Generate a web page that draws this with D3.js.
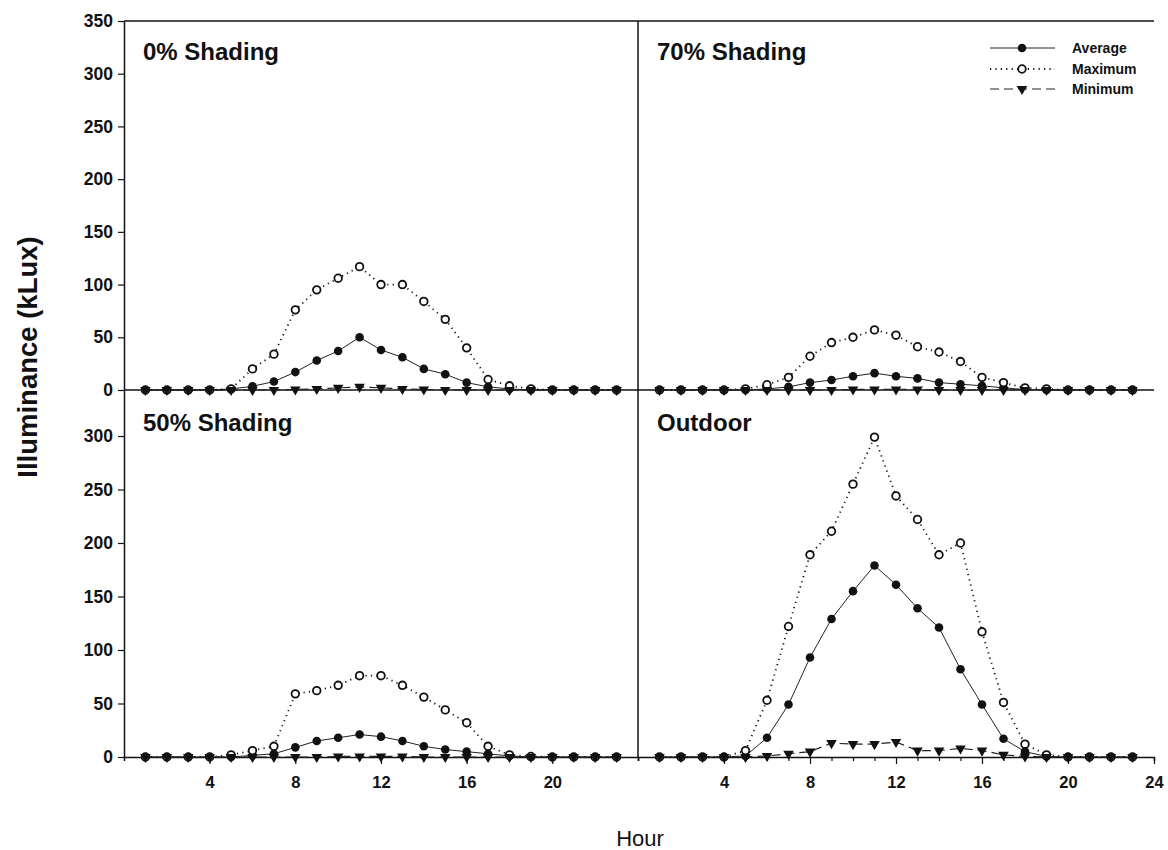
<!DOCTYPE html>
<html>
<head>
<meta charset="utf-8">
<script src="https://cdn.jsdelivr.net/npm/d3@7"></script>
<style>
  html, body { margin: 0; padding: 0; background: #fff; }
  svg { display: block; }
  text { font-family: "Liberation Sans", Arial, sans-serif; fill: #111; }
</style>
</head>
<body>
<svg id="chart" width="1168" height="850"></svg>
<script>
// ---------------- DATA ----------------
const hours = d3.range(1, 24); // 1..23

const shade0Avg = [0,0,0,0,1,3.5,8,17,28,37,50,38,31,20,15,7,3,1,0,0,0,0,0];
const shade0Max = [0,0,0,0,1,20,34,76,95,106,117,100,100,84,67,40,10,4,1,0,0,0,0];
const shade0Min = [0,0,0,0,0,0,0,0.5,1,2,3,2,1,0.5,0,0,0,0,0,0,0,0,0];

const shade70Avg = [0,0,0,0,0,1,3,7,9.5,13,16,13,11,7,5.5,4,2,0.5,0,0,0,0,0];
const shade70Max = [0,0,0,0,1,5,12,32,45,50,57,52,41,36,27,12,7,2,1,0,0,0,0];
const shade70Min = [0,0,0,0,0,0,0,0,0,0.5,0.5,0.5,0.5,0,0,0,0,0,0,0,0,0,0];

const shade50Avg = [0,0,0,0,0,1.5,3,9,15,18,21,19,15,10,7,5,3,1,0,0,0,0,0];
const shade50Max = [0,0,0,0,2,6,10,59,62,67,76,76,67,56,44,32,10,2,0.5,0,0,0,0];
const shade50Min = [0,0,0,0,0,0,0,0,0,0.5,0.5,0.5,0.5,0,0,0,0,0,0,0,0,0,0];

const outdoorAvg = [0,0,0,0,1,18,49,93,129,155,179,161,139,121,82,49,17,5,0.5,0,0,0,0];
const outdoorMax = [0,0,0,0,6,53,122,189,211,255,299,244,222,189,200,117,51,12,2,0,0,0,0];
const outdoorMin = [0,0,0,0,0,1,3,5,13,12,12,14,6,6,8,6,2,0.5,0,0,0,0,0];

const panelTitles = ["0% Shading", "70% Shading", "50% Shading", "Outdoor"];
const yTickValues = [0, 50, 100, 150, 200, 250, 300, 350];
const yTickValuesBottom = [0, 50, 100, 150, 200, 250, 300];
const xLabelValuesLeft = [4, 8, 12, 16, 20];
const xLabelValuesRight = [4, 8, 12, 16, 20, 24];
const seriesNames = ["Average", "Maximum", "Minimum"];
const yTitle = "Illuminance (kLux)";
const xTitle = "Hour";

// ---------------- LAYOUT ----------------
const svg = d3.select("#chart");
const X0 = 124, XM = 638, X1 = 1154;
const xLeft = d3.scaleLinear().domain([0, 24]).range([X0, XM]);
const xRight = d3.scaleLinear().domain([0, 24]).range([XM, X1]);
const yTop = d3.scaleLinear().domain([0, 350]).range([390, 21]);
const yBot = d3.scaleLinear().domain([0, 343]).range([757, 390]);

const panels = [
  { title: panelTitles[0], x: xLeft,  y: yTop, avg: shade0Avg,  max: shade0Max,  min: shade0Min,  ty: 60 },
  { title: panelTitles[1], x: xRight, y: yTop, avg: shade70Avg, max: shade70Max, min: shade70Min, ty: 60 },
  { title: panelTitles[2], x: xLeft,  y: yBot, avg: shade50Avg, max: shade50Max, min: shade50Min, ty: 431 },
  { title: panelTitles[3], x: xRight, y: yBot, avg: outdoorAvg, max: outdoorMax, min: outdoorMin, ty: 431 }
];

const styles = {
  avg: { stroke: "#222", width: 1, dash: null },
  max: { stroke: "#111", width: 1.8, dash: "1.2,4.2" },
  min: { stroke: "#222", width: 1.2, dash: "9,5" }
};

const triangle = d3.symbol().type(d3.symbolTriangle).size(48);

function drawMarker(g, kind, cx, cy) {
  if (kind === "avg") {
    g.append("circle").attr("cx", cx).attr("cy", cy).attr("r", 4.3).attr("fill", "#111");
  } else if (kind === "max") {
    g.append("circle").attr("cx", cx).attr("cy", cy).attr("r", 3.8)
      .attr("fill", "#fff").attr("stroke", "#111").attr("stroke-width", 1.8);
  } else {
    g.append("path").attr("d", triangle)
      .attr("transform", `translate(${cx},${cy}) rotate(180)`).attr("fill", "#111");
  }
}

// ---------------- FRAME / AXES ----------------
const frame = svg.append("g").attr("stroke", "#111").attr("stroke-width", 1.5).attr("fill", "none");
frame.append("line").attr("x1", X0).attr("x2", X1).attr("y1", yTop(350)).attr("y2", yTop(350));
frame.append("line").attr("x1", X0).attr("x2", X1).attr("y1", yTop(0)).attr("y2", yTop(0));
frame.append("line").attr("x1", XM).attr("x2", XM).attr("y1", yTop(350)).attr("y2", yBot(0));

function styleAxis(g, size) {
  g.selectAll(".domain").attr("stroke", "#111").attr("stroke-width", 1.5);
  g.selectAll(".tick line").attr("stroke", "#111").attr("stroke-width", 1.2);
  g.selectAll(".tick text").attr("font-size", size).attr("font-weight", "bold")
    .attr("font-family", '"Liberation Sans", Arial, sans-serif').attr("fill", "#111");
}

const yAxisTop = svg.append("g").attr("transform", `translate(${X0},0)`)
  .call(d3.axisLeft(yTop).tickValues(yTickValues).tickSize(6).tickSizeOuter(0).tickPadding(5));
styleAxis(yAxisTop, 17.5);
const yAxisBot = svg.append("g").attr("transform", `translate(${X0},0)`)
  .call(d3.axisLeft(yBot).tickValues(yTickValuesBottom).tickSize(6).tickSizeOuter(0).tickPadding(5));
styleAxis(yAxisBot, 17.5);

function xAxis(scale, labels, tickHours) {
  const g = svg.append("g").attr("transform", `translate(0,${yBot(0)})`)
    .call(d3.axisBottom(scale).tickValues(tickHours).tickSizeOuter(0).tickSize(4).tickPadding(15)
      .tickFormat(d => labels.includes(d) ? String(d) : ""));
  styleAxis(g, 16.5);
  g.selectAll(".tick line").attr("y2", d => labels.includes(d) ? 7 : 4);
  return g;
}
xAxis(xLeft, xLabelValuesLeft, d3.range(1, 24));
xAxis(xRight, xLabelValuesRight, d3.range(1, 25));

// ---------------- SERIES ----------------
panels.forEach(p => {
  const g = svg.append("g");
  ["avg", "max", "min"].forEach(k => {
    const vals = p[k];
    const line = d3.line().x((d, i) => p.x(hours[i])).y(d => p.y(d));
    const s = styles[k];
    g.append("path").datum(vals).attr("d", line).attr("fill", "none")
      .attr("stroke", s.stroke).attr("stroke-width", s.width)
      .attr("stroke-dasharray", s.dash);
  });
  ["avg", "max", "min"].forEach(k => {
    p[k].forEach((v, i) => drawMarker(g, k, p.x(hours[i]), p.y(v)));
  });
  svg.append("text").attr("x", p.x(0) + 19).attr("y", p.ty)
    .attr("font-size", 24).attr("font-weight", "bold").text(p.title);
});

// ---------------- LEGEND ----------------
const legend = svg.append("g");
const legKinds = ["avg", "max", "min"];
const legY = [48, 69, 89];
legKinds.forEach((k, i) => {
  const s = styles[k];
  legend.append("line").attr("x1", 990).attr("x2", 1055).attr("y1", legY[i]).attr("y2", legY[i])
    .attr("stroke", s.stroke).attr("stroke-width", s.width).attr("stroke-dasharray", s.dash);
  drawMarker(legend, k, 1022, legY[i]);
  legend.append("text").attr("x", 1072).attr("y", legY[i]).attr("dy", "0.36em")
    .attr("font-size", 14).attr("font-weight", "bold").text(seriesNames[i]);
});

// ---------------- TITLES ----------------
svg.append("text").attr("transform", "translate(37,357) rotate(-90)")
  .attr("text-anchor", "middle").attr("font-size", 27.5).attr("font-weight", "bold").text(yTitle);
svg.append("text").attr("x", 640).attr("y", 846).attr("text-anchor", "middle")
  .attr("font-size", 22).text(xTitle);
</script>
</body>
</html>
